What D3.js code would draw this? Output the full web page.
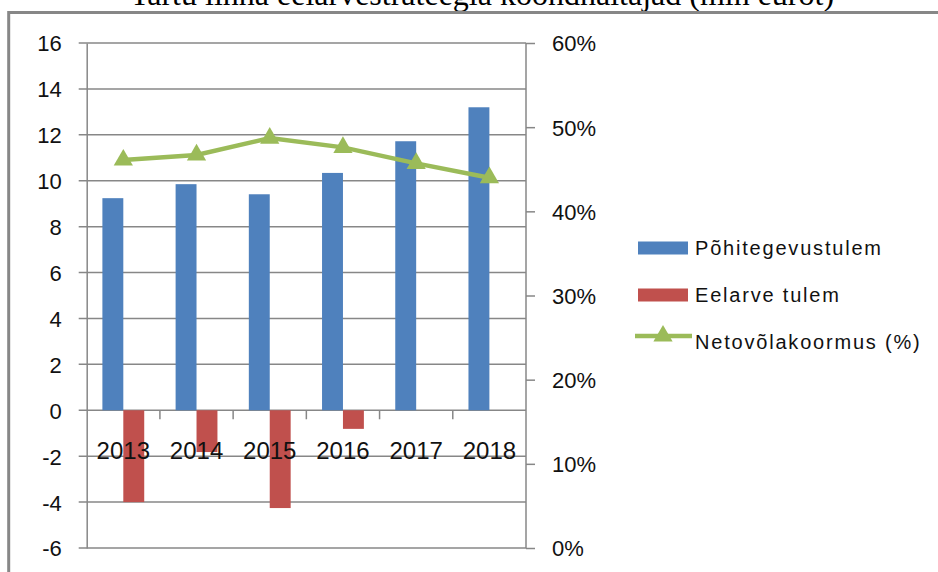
<!DOCTYPE html>
<meta charset="utf-8">
<script src="https://d3js.org/d3.v7.min.js"></script>
<style>
  body { margin: 0; background: #fff; }
  text { font-family: "Liberation Sans", Arial, sans-serif; }
</style>
<div id="chart"></div>
<script>
// data
const years = ["2013", "2014", "2015", "2016", "2017", "2018"];
const pohitegevus = [9.24, 9.85, 9.41, 10.34, 11.72, 13.2];
const eelarve = [-4.0, -1.82, -4.26, -0.81, 0, 0];
const netovolg = [0.461, 0.467, 0.487, 0.476, 0.457, 0.440];
const leftTicks = [-6, -4, -2, 0, 2, 4, 6, 8, 10, 12, 14, 16];
const rightTicks = [0, 0.1, 0.2, 0.3, 0.4, 0.5, 0.6];

const W = 938, H = 572;
const plot = {left: 86.7, right: 526, top: 43, bottom: 548};
const gridColor = "#878787";

const svg = d3.select("#chart").append("svg")
    .attr("width", W).attr("height", H);

svg.append("rect").attr("width", W).attr("height", H).attr("fill", "#fff");

// title, mostly cut off at the top like in the source picture
svg.append("text")
    .attr("x", 482).attr("y", 5)
    .attr("text-anchor", "middle")
    .style("font-family", "'Liberation Serif', 'Times New Roman', serif")
    .style("font-size", "32px")
    .text("Tartu linna eelarvestrateegia koondnäitajad (mln eurot)");

// outer frame
svg.append("path")
    .attr("d", `M8.7,${H + 5} V12.5 H${W + 5}`)
    .attr("fill", "none")
    .attr("stroke", gridColor)
    .attr("stroke-width", 3);

const x = d3.scaleBand().domain(years).range([plot.left, plot.right]).padding(0);
const y = d3.scaleLinear().domain([-6, 16]).range([plot.bottom, plot.top]);
const y2 = d3.scaleLinear().domain([0, 0.6]).range([plot.bottom, plot.top]);

// gridlines + left ticks
svg.append("g").selectAll("line")
    .data(leftTicks)
    .join("line")
    .attr("x1", plot.left - 8).attr("x2", plot.right)
    .attr("y1", d => y(d)).attr("y2", d => y(d))
    .attr("stroke", gridColor).attr("stroke-width", 1.5);

// left axis
const yAxis = svg.append("g")
    .attr("transform", `translate(${plot.left},0)`)
    .call(d3.axisLeft(y).tickValues(leftTicks).tickSize(0).tickPadding(25)
        .tickFormat(d => String(d)));
yAxis.select(".domain").attr("stroke", gridColor).attr("stroke-width", 1.5);
yAxis.selectAll("text").style("font-size", "22px").attr("fill", "#111")
    .attr("dy", "0.36em");

// right axis
const y2Axis = svg.append("g")
    .attr("transform", `translate(${plot.right},0)`)
    .call(d3.axisRight(y2).tickValues(rightTicks).tickSize(9).tickPadding(17)
        .tickFormat(d => Math.round(d * 100) + "%"));
y2Axis.select(".domain").attr("stroke", gridColor).attr("stroke-width", 1.5)
    .attr("d", `M0,${plot.top}V${plot.bottom}`);
y2Axis.selectAll(".tick line").attr("stroke", gridColor).attr("stroke-width", 1.5);
y2Axis.selectAll("text").style("font-size", "22px").attr("fill", "#111")
    .attr("dy", "0.36em");

// bars
const bw = x.bandwidth() / 3.5;
svg.append("g").selectAll("rect")
    .data(years)
    .join("rect")
    .attr("x", d => x(d) + x.bandwidth() / 2 - bw)
    .attr("y", (d, i) => y(pohitegevus[i]))
    .attr("width", bw)
    .attr("height", (d, i) => y(0) - y(pohitegevus[i]))
    .attr("fill", "#4F81BD");

svg.append("g").selectAll("rect")
    .data(years)
    .join("rect")
    .attr("x", d => x(d) + x.bandwidth() / 2)
    .attr("y", y(0))
    .attr("width", bw)
    .attr("height", (d, i) => y(eelarve[i]) - y(0))
    .attr("fill", "#C0504D");

// x axis on zero line
const xAxis = svg.append("g")
    .attr("transform", `translate(0,${y(0)})`)
    .call(d3.axisBottom(x).tickSize(0).tickPadding(32));
xAxis.select(".domain").remove();
xAxis.selectAll("text").style("font-size", "24px").attr("fill", "#111");
svg.append("g").selectAll("line")
    .data(years.slice(1))
    .join("line")
    .attr("x1", d => x(d)).attr("x2", d => x(d))
    .attr("y1", y(0)).attr("y2", y(0) + 9)
    .attr("stroke", gridColor).attr("stroke-width", 1.5);

// line series
const lineColor = "#9BBB59";
const line = d3.line()
    .x((d, i) => x(years[i]) + x.bandwidth() / 2)
    .y(d => y2(d));
svg.append("path")
    .datum(netovolg)
    .attr("d", line)
    .attr("fill", "none")
    .attr("stroke", lineColor)
    .attr("stroke-width", 4.5);

const tri = d3.symbol().type(d3.symbolTriangle).size(160);
svg.append("g").selectAll("path")
    .data(netovolg)
    .join("path")
    .attr("d", tri)
    .attr("transform", (d, i) => `translate(${x(years[i]) + x.bandwidth() / 2},${y2(d)})`)
    .attr("fill", lineColor);

// legend
const legend = svg.append("g");
const items = [
    {name: "Põhitegevustulem", type: "bar", color: "#4F81BD"},
    {name: "Eelarve tulem", type: "bar", color: "#C0504D"},
    {name: "Netovõlakoormus (%)", type: "line", color: lineColor}
];
items.forEach((it, i) => {
    const cy = 248 + i * 47;
    if (it.type === "bar") {
        legend.append("rect")
            .attr("x", 638).attr("y", cy - 6.5)
            .attr("width", 50).attr("height", 13)
            .attr("fill", it.color);
    } else {
        legend.append("line")
            .attr("x1", 635).attr("x2", 692)
            .attr("y1", cy - 6).attr("y2", cy - 6)
            .attr("stroke", it.color).attr("stroke-width", 4.5);
        legend.append("path")
            .attr("d", tri)
            .attr("transform", `translate(663,${cy - 6})`)
            .attr("fill", it.color);
    }
    legend.append("text")
        .attr("x", 695).attr("y", cy + 7)
        .style("font-size", "20px")
        .style("letter-spacing", "1.8px")
        .attr("fill", "#111")
        .text(it.name);
});
</script>
